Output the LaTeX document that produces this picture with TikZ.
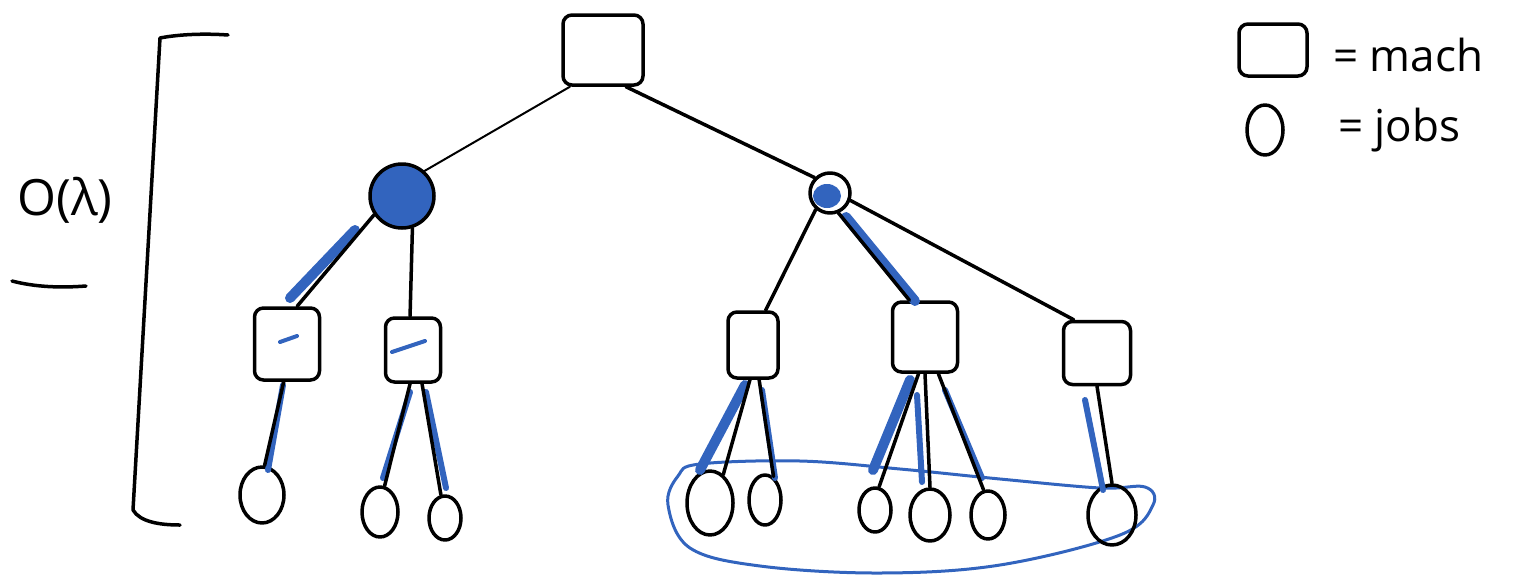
\documentclass[tikz,border=0pt]{standalone}
\usepackage{fontspec}
\setmainfont{Open Sans}
\usetikzlibrary{shapes.geometric,calc}
\definecolor{hblue}{RGB}{50,100,190}
\begin{document}
\begin{tikzpicture}[x=1pt,y=-1pt,
  ink/.style={line width=3.5pt,line cap=round,line join=round},
  hl/.style={hblue,line width=6pt,line cap=round},
  hlthick/.style={hblue,line width=10pt,line cap=round},
  mach/.style={draw,ink,rectangle,rounded corners=9pt,inner sep=0pt},
  job/.style={draw,ink,ellipse,inner sep=0pt},
  edge/.style={ink},
  lbl/.style={font=\fontsize{44}{50}\selectfont,anchor=west,inner sep=0pt}]
\useasboundingbox (0,0) rectangle (1530,576);

% bracket and bound
\draw[ink] (228,35) .. controls (200,33) and (175,35) .. (160,38) -- (133,510) .. controls (140,522) and (160,525) .. (180,525);
\node[font=\fontsize{50}{60}\selectfont,inner sep=0pt] (bound) at (65,200) {O(λ)};
\draw[ink] (12,281) .. controls (35,287) and (60,288) .. (86,286);

% selected jobs group
\draw[hblue,line width=3pt] plot[smooth cycle,tension=0.6] coordinates {(700,464) (800,461) (900,469) (1000,479) (1100,488) (1145,487) (1153,505) (1120,535) (1000,565) (880,573) (760,566) (690,548) (668,505) (678,476)};

% nodes
\node[mach,minimum width=80pt,minimum height=70pt] (root) at (603,50) {};
\node[job,minimum width=64pt,minimum height=64pt,fill=hblue] (c1) at (402,196) {};
\node[job,minimum width=40pt,minimum height=40pt] (c2) at (830,193) {};
\fill[hblue] (827,196) ellipse (14 and 12);

\node[mach,minimum width=65pt,minimum height=72pt] (b1) at (287,344) {};
\node[mach,minimum width=55pt,minimum height=64pt] (b2) at (413,350) {};
\node[mach,minimum width=50pt,minimum height=66pt] (b3) at (753,345) {};
\node[mach,minimum width=65pt,minimum height=70pt] (b4) at (925,337) {};
\node[mach,minimum width=67pt,minimum height=63pt] (b5) at (1097,353) {};

\node[job,minimum width=44pt,minimum height=56pt] (l1) at (262,495) {};
\node[job,minimum width=36pt,minimum height=50pt] (l2) at (380,512) {};
\node[job,minimum width=32pt,minimum height=44pt] (l3) at (445,518) {};
\node[job,minimum width=46pt,minimum height=64pt] (l4) at (710,503) {};
\node[job,minimum width=32pt,minimum height=50pt] (l5) at (765,500) {};
\node[job,minimum width=32pt,minimum height=44pt] (l6) at (875,510) {};
\node[job,minimum width=40pt,minimum height=52pt] (l7) at (930,515) {};
\node[job,minimum width=34pt,minimum height=48pt] (l8) at (988,515) {};
\node[job,minimum width=48pt,minimum height=60pt] (l9) at (1112,515) {};

% blue highlights
\draw[hlthick] ($(c1)+(-47,34)$) -- ($(b1)+(3,-46)$);
\draw[hlthick] ($(c2)+(16,24)$) -- ($(b4)+(-10,-36)$);
\draw[hl] ($(b1)+(-4,41)$) -- ($(l1)+(6,-25)$);
\draw[hl] ($(b2)+(-3,42)$) -- ($(l2)+(3,-34)$);
\draw[hl] ($(b2)+(13,42)$) -- ($(l3)+(1,-30)$);
\draw[hlthick] ($(b3)+(-8,40)$) -- ($(l4)+(-10,-33)$);
\draw[hl] ($(b3)+(9,45)$) -- ($(l5)+(10,-22)$);
\draw[hlthick] ($(b4)+(-15,43)$) -- ($(l6)+(-2,-40)$);
\draw[hl] ($(b4)+(-8,58)$) -- ($(l7)+(-8,-33)$);
\draw[hl] ($(b4)+(20,53)$) -- ($(l8)+(-6,-37)$);
\draw[hl] ($(b5)+(-12,47)$) -- ($(l9)+(-9,-25)$);
\draw[hblue,line width=4pt,line cap=round] ($(b1)+(-7,-2)$) -- ($(b1)+(10,-8)$);
\draw[hblue,line width=4pt,line cap=round] ($(b2)+(-21,2)$) -- ($(b2)+(12,-9)$);

% connectors
\draw[edge,line width=2pt] (root.228) -- (c1.48);
\draw[edge] (root.302) -- (c2.135);
\draw[edge] (c1.214) -- (b1.75);
\draw[edge] (c1.288) -- (b2.95);
\draw[edge] (c2.229) -- (b3.70);
\draw[edge] (c2.293) -- (b4.113);
\draw[edge] (c2.340) -- (b5.125);
\draw[edge] (b1.265) -- (l1.85);
\draw[edge] (b2.265) -- (l2.80);
\draw[edge] (b2.285) -- (l3.100);
\draw[edge] (b3.265) -- (l4.65);
\draw[edge] (b3.280) -- (l5.70);
\draw[edge] (b4.260) -- (l6.80);
\draw[edge] (b4.south) -- (l7.north);
\draw[edge] (b4.290) -- (l8.100);
\draw[edge] (b5.south) -- (l9.north);

% legend
\node[mach,minimum width=68pt,minimum height=52pt] (lgbox) at (1273,50) {};
\node[lbl] (lgmach) at (1333,55) {= mach};
\node[job,minimum width=36pt,minimum height=50pt] (lgjob) at (1265,130) {};
\node[lbl] (lgjobs) at (1338,130) {= jobs};
\end{tikzpicture}
\end{document}
